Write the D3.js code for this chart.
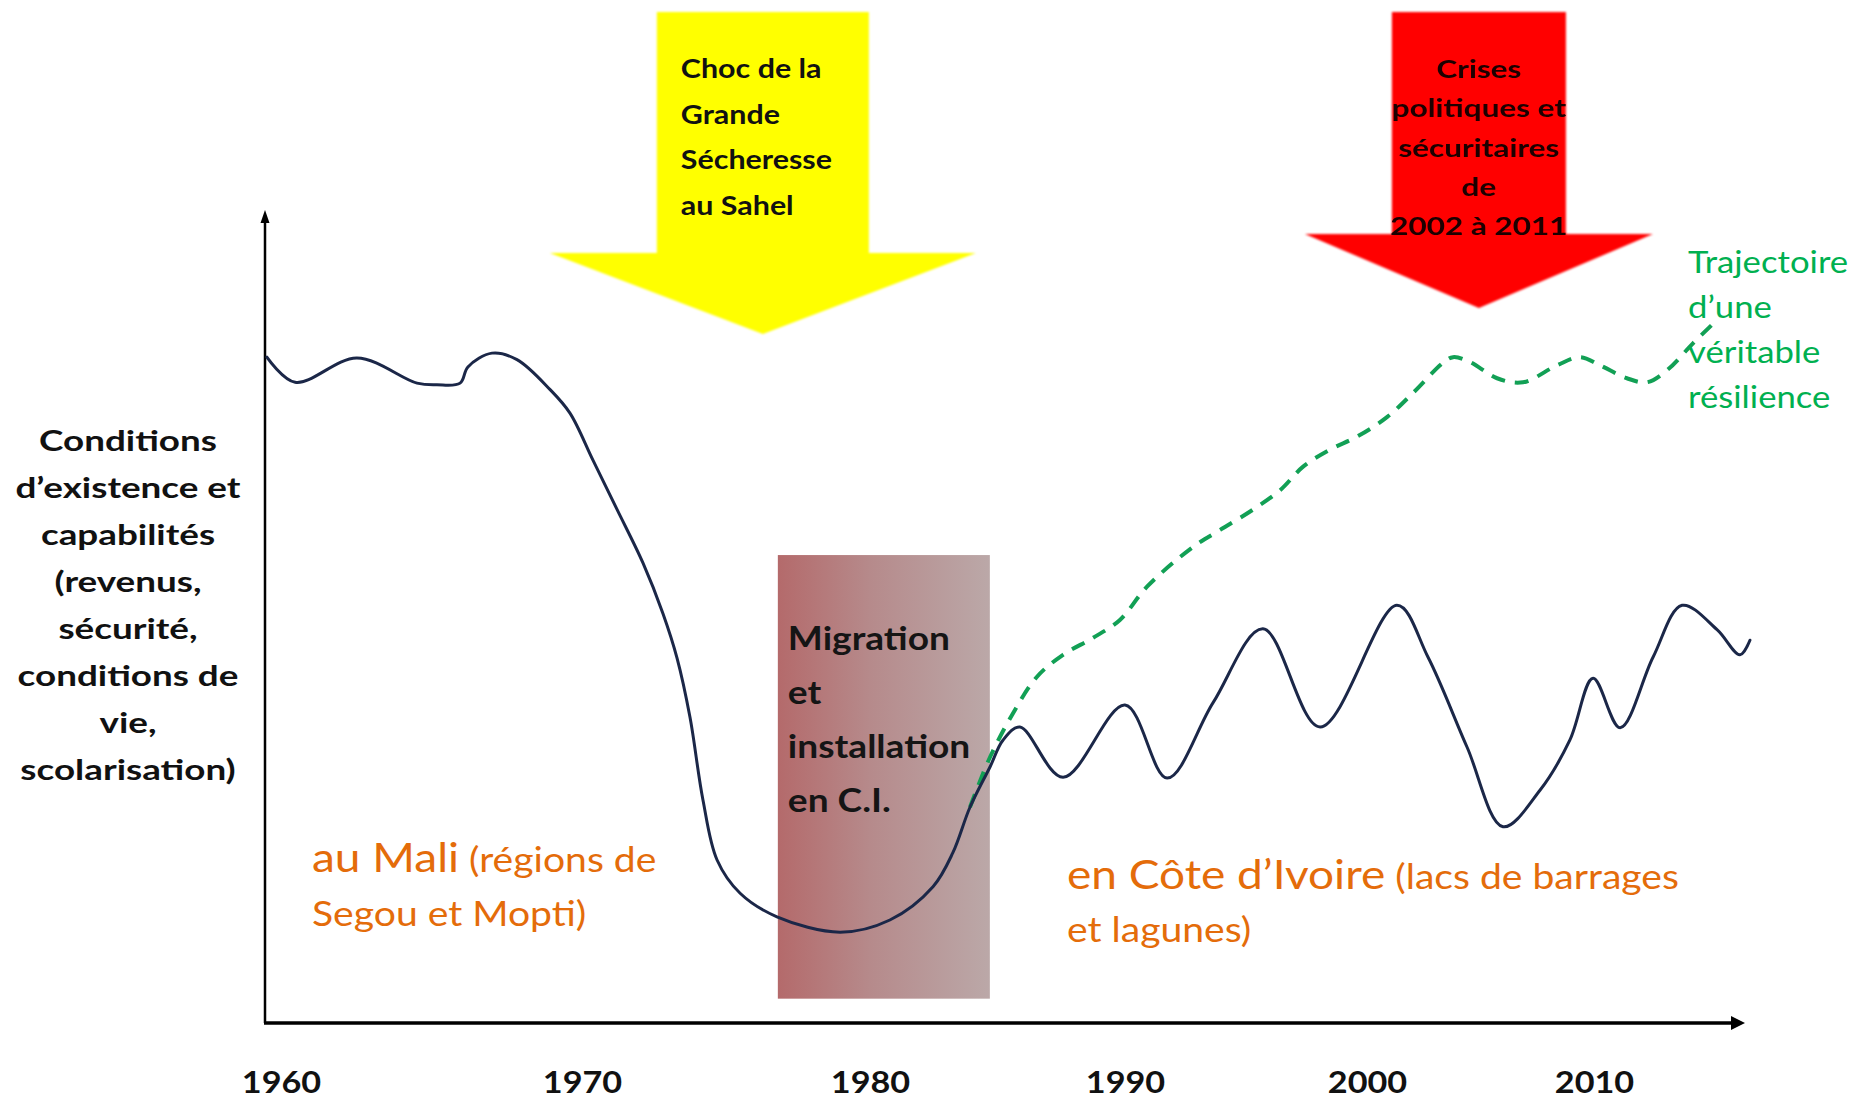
<!DOCTYPE html>
<html><head><meta charset="utf-8">
<script src="https://cdn.jsdelivr.net/npm/d3@7"></script>
<style>
body{margin:0;background:#fff;}
svg{display:block;font-family:Lato,"Open Sans",sans-serif;}
</style>
</head><body>
<svg id="c" width="1869" height="1101"></svg>
<script>
// ---------- data ----------
const tickYears = [1960, 1970, 1980, 1990, 2000, 2010];
const tickLabels = ["1960", "1970", "1980", "1990", "2000", "2010"];

// Trajectory observed (Mali then Côte d'Ivoire)
const maliYears = [1959.53,1960.47,1962.52,1964.52,1965.18,1965.95,1966.21,1967.01,1967.84,1968.94,1969.6,1970.38,1971.22,1972.12,1972.81,1973.3,1973.75,1974.2,1974.69,1975.49,1976.77,1978.96,1980.78,1982.47,1983.25,1983.92,1984.71,1985.22,1985.88,1987.57,1990.0,1991.74,1993.64,1995.7,1998.06,2001.32,2002.69,2004.41,2005.99,2007.62,2008.94,2009.96,2011.15,2012.6,2013.88,2015.42,2016.43,2016.87];
const maliValues = [82.1,79.0,82.0,78.9,78.7,78.9,80.9,82.6,81.8,78.1,75.2,69.4,63.3,56.7,50.5,45.0,37.7,27.5,20.1,16.0,13.1,11.2,12.7,16.8,21.0,26.6,31.6,34.9,36.5,30.3,39.2,30.2,39.5,48.6,36.5,51.5,45.1,34.0,24.2,28.7,34.9,42.5,36.4,45.1,51.5,48.5,45.4,47.2];

// Trajectory of a true resilience (dashed)
const resYears = [1983.92,1984.71,1985.61,1986.55,1987.57,1988.75,1989.8,1990.91,1992.81,1993.93,1995.29,1996.41,1997.36,1998.47,1999.59,2000.88,2002.03,2003.35,2003.79,2004.54,2005.73,2006.87,2008.37,2009.38,2010.26,2011.45,2012.33,2013.22,2014.36,2015.42];
const resValues = [26.6,32.8,38.2,42.7,45.4,47.5,49.7,53.8,58.7,60.8,63.3,65.7,68.6,70.7,72.3,74.7,77.7,81.4,82.1,81.5,79.5,79.0,81.1,82.1,81.1,79.5,79.0,80.5,83.8,86.7];

const migrationPeriod = [1976.8, 1984.7];
const migrationLevels = [3.0, 57.7];
const droughtYear = 1976.28;
const crisisYear = 2004.93;

const yLabelLines = ["Conditions","d’existence et","capabilités","(revenus,","sécurité,","conditions de","vie,","scolarisation)"];
const droughtLines = ["Choc de la","Grande","Sécheresse","au Sahel"];
const crisisLines = ["Crises","politiques et","sécuritaires","de","2002 à 2011"];
const migrationLines = ["Migration","et","installation","en C.I."];
const resLines = ["Trajectoire","d’une","véritable","résilience"];

// ---------- layout ----------
const tickPos = [281, 582, 870, 1125, 1367, 1594];
const axisX0 = 265, axisX1 = 1745, axisY0 = 1023, axisYTop = 210;

const svg = d3.select("#c");
const x = d3.scaleLinear().domain(tickYears).range(tickPos);
const y = d3.scaleLinear().domain([0, 100]).range([1023, 212]);

const defs = svg.append("defs");
const grad = defs.append("linearGradient").attr("id","mig").attr("x1","0").attr("x2","1").attr("y1","0").attr("y2","0");
grad.append("stop").attr("offset","0").attr("stop-color","#b46a6b");
grad.append("stop").attr("offset","0.45").attr("stop-color","#b68b8c");
grad.append("stop").attr("offset","1").attr("stop-color","#bba8a8");
const blur = defs.append("filter").attr("id","soft").attr("x","-10%").attr("y","-10%").attr("width","120%").attr("height","120%");
blur.append("feGaussianBlur").attr("stdDeviation", 1.2);
const tblur = defs.append("filter").attr("id","tsoft");
tblur.append("feGaussianBlur").attr("stdDeviation", 0.5);

// helper: horizontally stretched text block
function block(parent, lines, ox, sx, y0, dy, opts) {
  const g = parent.append("g").attr("transform", `translate(${ox},0) scale(${sx},1)`);
  g.selectAll("text").data(lines).join("text")
    .attr("x", 0).attr("y", (d,i) => y0 + i*dy)
    .attr("text-anchor", opts.anchor || "start")
    .attr("font-size", opts.size).attr("font-weight", opts.weight || 400)
    .attr("fill", opts.fill)
    .text(d => d);
  return g;
}

// Migration box
svg.append("rect")
  .attr("x", x(migrationPeriod[0])).attr("width", x(migrationPeriod[1]) - x(migrationPeriod[0]))
  .attr("y", y(migrationLevels[1])).attr("height", y(migrationLevels[0]) - y(migrationLevels[1]))
  .attr("fill", "url(#mig)");
block(svg, migrationLines, x(migrationPeriod[0]) + 10, 1.16, 650, 54, {size: 32, weight: 700, fill: "#151515"});

// Arrows
function arrow(cx, bodyHalf, top, shoulder, headHalf, tip) {
  return `M${cx-bodyHalf},${top} L${cx+bodyHalf},${top} L${cx+bodyHalf},${shoulder} L${cx+headHalf},${shoulder} L${cx},${tip} L${cx-headHalf},${shoulder} L${cx-bodyHalf},${shoulder} Z`;
}
const yc = x(droughtYear);
svg.append("path").attr("d", arrow(yc, 106, 12, 253, 213, 334)).attr("fill", "#ffff00").attr("filter","url(#soft)");
block(svg, droughtLines, yc - 82, 1.17, 78, 45.7, {size: 26, weight: 700, fill: "#111"});

const rc = x(crisisYear);
svg.append("path").attr("d", arrow(rc, 87, 12, 234, 174, 308)).attr("fill", "#ff0000").attr("filter","url(#soft)");
block(svg, crisisLines, rc, 1.26, 78, 39.3, {size: 25, weight: 700, fill: "#1a0000", anchor: "middle"})
  .attr("filter","url(#tsoft)");

// Axes
svg.append("line").attr("x1", axisX0).attr("x2", axisX0).attr("y1", axisY0).attr("y2", axisYTop + 10)
  .attr("stroke", "#000").attr("stroke-width", 2.5);
svg.append("path").attr("d", `M${axisX0-4.5},${axisYTop+13} L${axisX0},${axisYTop} L${axisX0+4.5},${axisYTop+13} Z`)
  .attr("fill","#000");
svg.append("line").attr("x1", axisX0 - 1).attr("x2", axisX1 - 6).attr("y1", axisY0).attr("y2", axisY0)
  .attr("stroke", "#000").attr("stroke-width", 3.5);
svg.append("path").attr("d", `M${axisX1-14},${axisY0-7} L${axisX1},${axisY0} L${axisX1-14},${axisY0+7} Z`)
  .attr("fill","#000");

// Tick labels via axis
const xAxis = d3.axisBottom(x).tickValues(tickYears).tickFormat((d,i) => tickLabels[i]).tickSize(0).tickPadding(0);
const gx = svg.append("g").attr("transform", "translate(0,1093)").call(xAxis);
gx.select(".domain").remove();
gx.selectAll("text").attr("font-family","Lato, sans-serif").attr("font-size", 30).attr("font-weight", 700)
  .attr("fill", "#111").attr("y", 0).attr("dy", 0).attr("transform", "scale(1.14,1)");

// Y label
block(svg, yLabelLines, 128, 1.27, 451, 47, {size: 29, weight: 700, fill: "#111", anchor: "middle"});

// Lines
const line = d3.line().x(d => x(d[0])).y(d => y(d[1])).curve(d3.curveCatmullRom.alpha(0.5));
svg.append("path").datum(resYears.map((d,i) => [d, resValues[i]]))
  .attr("d", line).attr("fill","none").attr("stroke","#12a055").attr("stroke-width", 4)
  .attr("stroke-dasharray","14 10");
svg.append("path").datum(maliYears.map((d,i) => [d, maliValues[i]]))
  .attr("d", line).attr("fill","none").attr("stroke","#1b2748").attr("stroke-width", 3)
  .attr("stroke-linejoin","round").attr("stroke-linecap","round");

// Green label
block(svg, resLines, 1688, 1.12, 273, 45, {size: 31, fill: "#00b050"});

// Orange labels
const orange = "#e46c0a";
const og1 = svg.append("g").attr("transform", "translate(312,0) scale(1.15,1)");
const t1 = og1.append("text").attr("x", 0).attr("y", 872).attr("fill", orange);
t1.append("tspan").attr("font-size", 40).text("au Mali");
t1.append("tspan").attr("font-size", 34).text(" (régions de");
og1.append("text").attr("x", 0).attr("y", 926).attr("fill", orange).attr("font-size", 34).text("Segou et Mopti)");

const og2 = svg.append("g").attr("transform", "translate(1067,0) scale(1.15,1)");
const t2 = og2.append("text").attr("x", 0).attr("y", 889).attr("fill", orange);
t2.append("tspan").attr("font-size", 40).text("en Côte d’Ivoire");
t2.append("tspan").attr("font-size", 34).text(" (lacs de barrages");
og2.append("text").attr("x", 0).attr("y", 942).attr("fill", orange).attr("font-size", 34).text("et lagunes)");
</script>
</body></html>
